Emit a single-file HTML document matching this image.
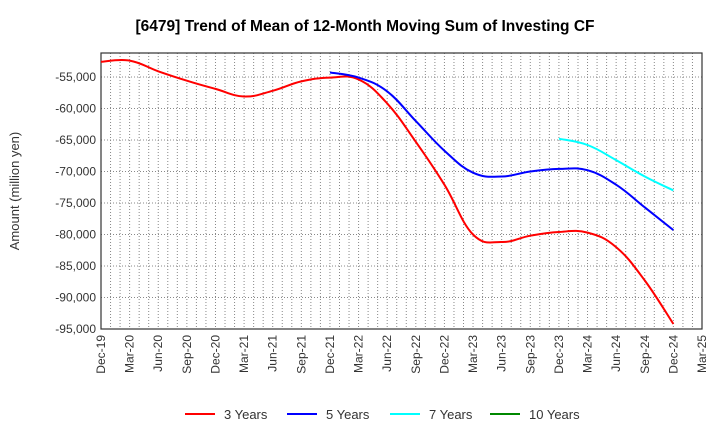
<!DOCTYPE html>
<html><head><meta charset="utf-8"><style>
body{margin:0;background:#fff;font-family:"Liberation Sans",sans-serif;}
</style></head><body>
<svg id="c" width="720" height="440" xmlns="http://www.w3.org/2000/svg" font-family="Liberation Sans, sans-serif">
<text x="365" y="31" text-anchor="middle" font-size="15.5" font-weight="bold">[6479]  Trend of Mean of 12-Month Moving Sum of Investing CF</text>
<g id="grid"></g><g id="axes"></g><g id="series"></g><g id="legend"></g>
</svg>
<script>
const xLabels=["Dec-19","Mar-20","Jun-20","Sep-20","Dec-20","Mar-21","Jun-21","Sep-21","Dec-21","Mar-22","Jun-22","Sep-22","Dec-22","Mar-23","Jun-23","Sep-23","Dec-23","Mar-24","Jun-24","Sep-24","Dec-24","Mar-25"];
const yTicks=[-55000,-60000,-65000,-70000,-75000,-80000,-85000,-90000,-95000];
const s3=[-52600,-52400,-54100,-55600,-56900,-58100,-57200,-55700,-55100,-55400,-59200,-65300,-72100,-80000,-81200,-80200,-79600,-79700,-82000,-87300,-94200];
const s5=[null,null,null,null,null,null,null,null,-54300,-55100,-57300,-62000,-66700,-70200,-70800,-70000,-69600,-69800,-72100,-75700,-79300];
const s7=[null,null,null,null,null,null,null,null,null,null,null,null,null,null,null,null,-64800,-65800,-68200,-70800,-73000];
const s10=[];
const L=101,R=702,T=53,B=329,yMax=-51200,yMin=-95000;
const X=i=>L+(R-L)*i/63*3;
const Xm=m=>L+(R-L)*m/63;
const Y=v=>T+(B-T)*(yMax-v)/(yMax-yMin);
const NS="http://www.w3.org/2000/svg";
function mk(t,a,p){const e=document.createElementNS(NS,t);for(const k in a)e.setAttribute(k,a[k]);document.getElementById(p).appendChild(e);return e;}
for(let m=1;m<63;m++){const l=mk("line",{x1:Xm(m),x2:Xm(m),y1:T,y2:B,stroke:"#888","stroke-dasharray":"1,2","stroke-width":1},"grid");

}
yTicks.forEach(v=>{const l=mk("line",{x1:L,x2:R,y1:Y(v),y2:Y(v),stroke:"#888","stroke-dasharray":"1,2"},"grid");


const t=mk("text",{x:L-5,y:Y(v)+4,"text-anchor":"end","font-size":12,fill:"#333"},"axes");t.textContent=v.toLocaleString("en-US");

});
const fr=mk("rect",{x:L,y:T,width:R-L,height:B-T,fill:"none",stroke:"#333","stroke-width":1.2},"axes");


xLabels.forEach((s,i)=>{const x=X(i);const t=mk("text",{transform:`translate(${x+4},${B+6}) rotate(-90)`,"text-anchor":"end","font-size":12,fill:"#333"},"axes");t.textContent=s;

});
const yt=mk("text",{transform:"translate(19,191) rotate(-90)","text-anchor":"middle","font-size":13,fill:"#333"},"axes");yt.textContent="Amount (million yen)";


function line(d,c,n){const pts=[];d.forEach((v,i)=>{if(v!=null)pts.push([X(i),Y(v)]);});if(pts.length<2)return;
let p="M"+pts[0][0].toFixed(1)+","+pts[0][1].toFixed(1);
for(let i=0;i<pts.length-1;i++){const p0=pts[Math.max(0,i-1)],p1=pts[i],p2=pts[i+1],p3=pts[Math.min(pts.length-1,i+2)];
const k=0.2;const c1=[p1[0]+(p2[0]-p0[0])*k,p1[1]+(p2[1]-p0[1])*k],c2=[p2[0]-(p3[0]-p1[0])*k,p2[1]-(p3[1]-p1[1])*k];
p+="C"+c1.map(z=>z.toFixed(1)).join(",")+" "+c2.map(z=>z.toFixed(1)).join(",")+" "+p2[0].toFixed(1)+","+p2[1].toFixed(1);}
const e=mk("path",{d:p,fill:"none",stroke:c,"stroke-width":2,"stroke-linejoin":"round"},"series");

}
line(s3,"#f00","series-3-years");line(s5,"#00f","series-5-years");line(s7,"#0ff","series-7-years");line(s10,"#080","series-10-years");
[["3 Years","#f00",185],["5 Years","#00f",287],["7 Years","#0ff",390],["10 Years","#080",490]].forEach(([n,c,x])=>{
const g=mk("g",{},"legend");


const l=document.createElementNS(NS,"line");l.setAttribute("x1",x);l.setAttribute("x2",x+30);l.setAttribute("y1",414);l.setAttribute("y2",414);l.setAttribute("stroke",c);l.setAttribute("stroke-width",2);g.appendChild(l);
const t=document.createElementNS(NS,"text");t.setAttribute("x",x+39);t.setAttribute("y",419);t.setAttribute("font-size",13);t.setAttribute("fill","#333");t.textContent=n;g.appendChild(t);});
</script>
</body></html>
